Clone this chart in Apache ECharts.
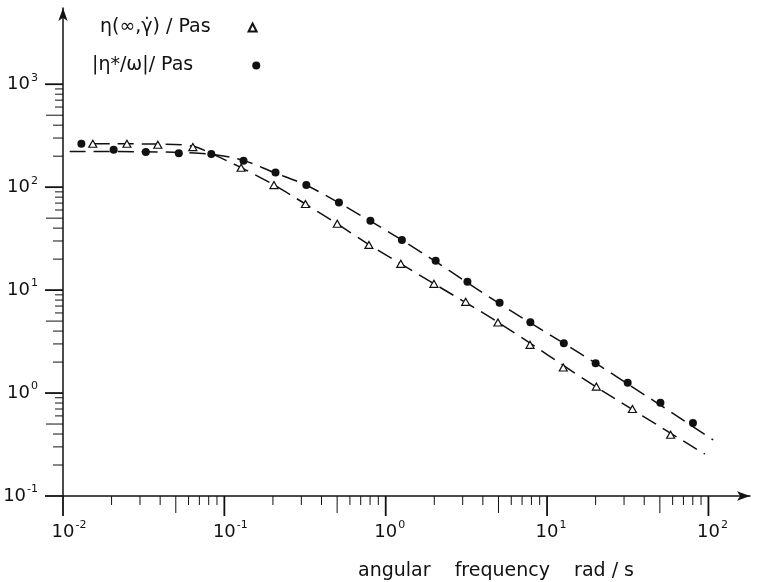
<!DOCTYPE html>
<html><head><meta charset="utf-8">
<script src="https://cdn.jsdelivr.net/npm/echarts@6/dist/echarts.min.js"></script>
<style>html,body{margin:0;padding:0;background:#fff}#c{width:759px;height:582px}</style>
</head><body><div id="c"></div>
<script>
// ---- series names / labels ----
const triName = 'η(∞,γ̇) / Pas';
const circName = '|η*/ω|/ Pas';
const xAxisName = 'angular    frequency    rad / s';

// ---- measured points: η(∞,γ̇) (open triangles) ----
const triOmega = [0.0153, 0.0249, 0.0387, 0.0638, 0.127, 0.203, 0.318, 0.501, 0.787, 1.24, 1.99, 3.13, 4.96, 7.84, 12.6, 20.2, 33.8, 58.3];
const triEta   = [264, 264, 258, 245, 154.5, 104.8, 68.6, 44.1, 27.5, 18.0, 11.5, 7.69, 4.84, 2.94, 1.77, 1.156, 0.701, 0.393];

// ---- measured points: |η*/ω| (filled circles) ----
const circOmega = [0.013, 0.0206, 0.0326, 0.0522, 0.083, 0.1315, 0.2075, 0.322, 0.513, 0.804, 1.26, 2.04, 3.21, 5.08, 7.88, 12.7, 20.0, 31.6, 50.4, 80.2];
const circEta   = [264, 231, 219, 214, 210, 181, 139, 105, 71, 47.1, 30.6, 19.3, 12.05, 7.53, 4.88, 3.05, 1.95, 1.256, 0.803, 0.513];

// ---- dashed fitted curves ----
const triFitOmega = [0.0155, 0.04, 0.064, 0.083, 0.127, 0.203, 0.318, 0.5, 0.79, 1.24, 2, 5, 20, 95];
const triFitEta   = [264, 262, 250, 212, 155, 105, 68.6, 44.1, 27.5, 18.0, 11.5, 4.84, 1.156, 0.255];
const circFitOmega = [0.011, 0.03, 0.055, 0.083, 0.13, 0.2, 0.32, 0.5, 0.8, 1.26, 2, 5, 20, 107];
const circFitEta   = [222, 221, 217, 209, 183, 140, 105, 72, 47, 30.6, 19.3, 7.5, 1.95, 0.351];

// ---- axis ranges & tick decades ----
const xMin = 0.01, xMax = 181;
const yMin = 0.1, yMax = 5500;
const xDecades = [0.01, 0.1, 1, 10];
const xLastMajor = 100;
const yDecades = [0.1, 1, 10, 100];
const yLastMajor = 1000;
const tickMultipliers = [1, 2, 3, 4, 5, 6, 7, 8, 9];

const FONT = 'DejaVu Sans';
const INK = '#111';

const zip = (a, b) => a.map((v, i) => [v, b[i]]);

// tick items: [x, y, kind, multiplier]  kind 0 = x-axis tick, 1 = y-axis tick
const tickData = [];
xDecades.forEach(d => tickMultipliers.forEach(m => tickData.push([d * m, yMin, 0, m])));
tickData.push([xLastMajor, yMin, 0, 1]);
yDecades.forEach(d => tickMultipliers.forEach(m => tickData.push([xMin, d * m, 1, m])));
tickData.push([xMin, yLastMajor, 1, 1]);

function expOf(v) {
  const e = Math.log10(v), r = Math.round(e);
  return Math.abs(e - r) < 1e-6 ? r : null;
}
const richBase = {
  b:  { fontSize: 18, fontFamily: FONT, color: INK },
  bn: { fontSize: 18, fontFamily: FONT, color: INK, padding: [0, 0, 0, 12] },
  bp: { fontSize: 18, fontFamily: FONT, color: INK, padding: [0, 0, 0, 8] },
  s:  { fontSize: 11, lineHeight: 11, fontFamily: FONT, color: INK, padding: [0, 0, 13, 1] }
};

const chart = echarts.init(document.getElementById('c'), null, { renderer: 'canvas' });
chart.setOption({
  backgroundColor: '#fff',
  animation: false,
  textStyle: { fontFamily: FONT, color: INK },
  legend: [
    { data: [triName], left: 100, top: 18, padding: 0, orient: 'vertical', align: 'right',
      itemWidth: 8, itemHeight: 8, selectedMode: false,
      textStyle: { fontSize: 19, fontFamily: FONT, color: INK, padding: [0, 33, 0, 0] } },
    { data: [circName], left: 92, top: 56, padding: 0, orient: 'vertical', align: 'right',
      itemWidth: 8, itemHeight: 8, selectedMode: false,
      textStyle: { fontSize: 19, fontFamily: FONT, color: INK, padding: [0, 54, 0, 0] } }
  ],
  grid: { left: 63, right: 9, top: 8, bottom: 86, containLabel: false, outerBoundsMode: 'none' },
  xAxis: {
    type: 'log', logBase: 10, min: xMin, max: xMax,
    axisLine: { lineStyle: { color: INK, width: 1.5 }, symbol: ['none', 'arrow'], symbolSize: [7, 13] },
    axisTick: { show: false }, minorTick: { show: false }, splitLine: { show: false },
    axisLabel: {
      margin: 27, color: INK,
      formatter: v => { const r = expOf(v); return r === null ? '' : (r < 0 ? '{bn|10}{s|' + r + '}' : '{bp|10}{s|' + r + '}'); },
      rich: richBase
    },
    name: xAxisName, nameLocation: 'middle', nameGap: 66,
    nameTextStyle: { fontSize: 19, fontFamily: FONT, color: INK, padding: [0, 0, 0, 179] }
  },
  yAxis: {
    type: 'log', logBase: 10, min: yMin, max: yMax,
    axisLine: { lineStyle: { color: INK, width: 1.5 }, symbol: ['none', 'arrow'], symbolSize: [7, 13] },
    axisTick: { show: false }, minorTick: { show: false }, splitLine: { show: false },
    axisLabel: {
      margin: 25, color: INK,
      formatter: v => { const r = expOf(v); return r === null ? '' : '{b|10}{s|' + r + '}'; },
      rich: richBase
    }
  },
  series: [
    { type: 'custom', name: 'ticks', clip: false, silent: true, z: 1,
      data: tickData,
      renderItem: (params, api) => {
        const p = api.coord([api.value(0), api.value(1)]);
        const kind = api.value(2), m = api.value(3);
        const major = m === 1;
        let len;
        if (kind === 0) len = major ? 20 : (m === 5 ? 17 : 9);
        else len = major ? 18 : (m === 5 ? 17 : (m < 5 ? 10 : 8));
        const shape = kind === 0
          ? { x1: p[0], y1: p[1], x2: p[0], y2: p[1] + len }
          : { x1: p[0] - len, y1: p[1], x2: p[0], y2: p[1] };
        return { type: 'line', shape, style: { stroke: INK, lineWidth: major ? 1.8 : 1 } };
      }
    },
    { type: 'line', name: 'triFit', data: zip(triFitOmega, triFitEta), showSymbol: false, symbol: 'none',
      smooth: 0.3, z: 2, lineStyle: { color: INK, width: 1.5, type: [16, 8] } },
    { type: 'line', name: 'circFit', data: zip(circFitOmega, circFitEta), showSymbol: false, symbol: 'none',
      smooth: 0.3, z: 2, lineStyle: { color: INK, width: 1.5, type: [16, 8] } },
    { type: 'scatter', name: triName, data: zip(triOmega, triEta), symbol: 'triangle', symbolSize: [8, 7], z: 3,
      itemStyle: { color: '#fff', borderColor: INK, borderWidth: 1.2, opacity: 1 } },
    { type: 'scatter', name: circName, data: zip(circOmega, circEta), symbol: 'circle', symbolSize: 8, z: 3,
      itemStyle: { color: INK, opacity: 1 } }
  ]
});
</script></body></html>
